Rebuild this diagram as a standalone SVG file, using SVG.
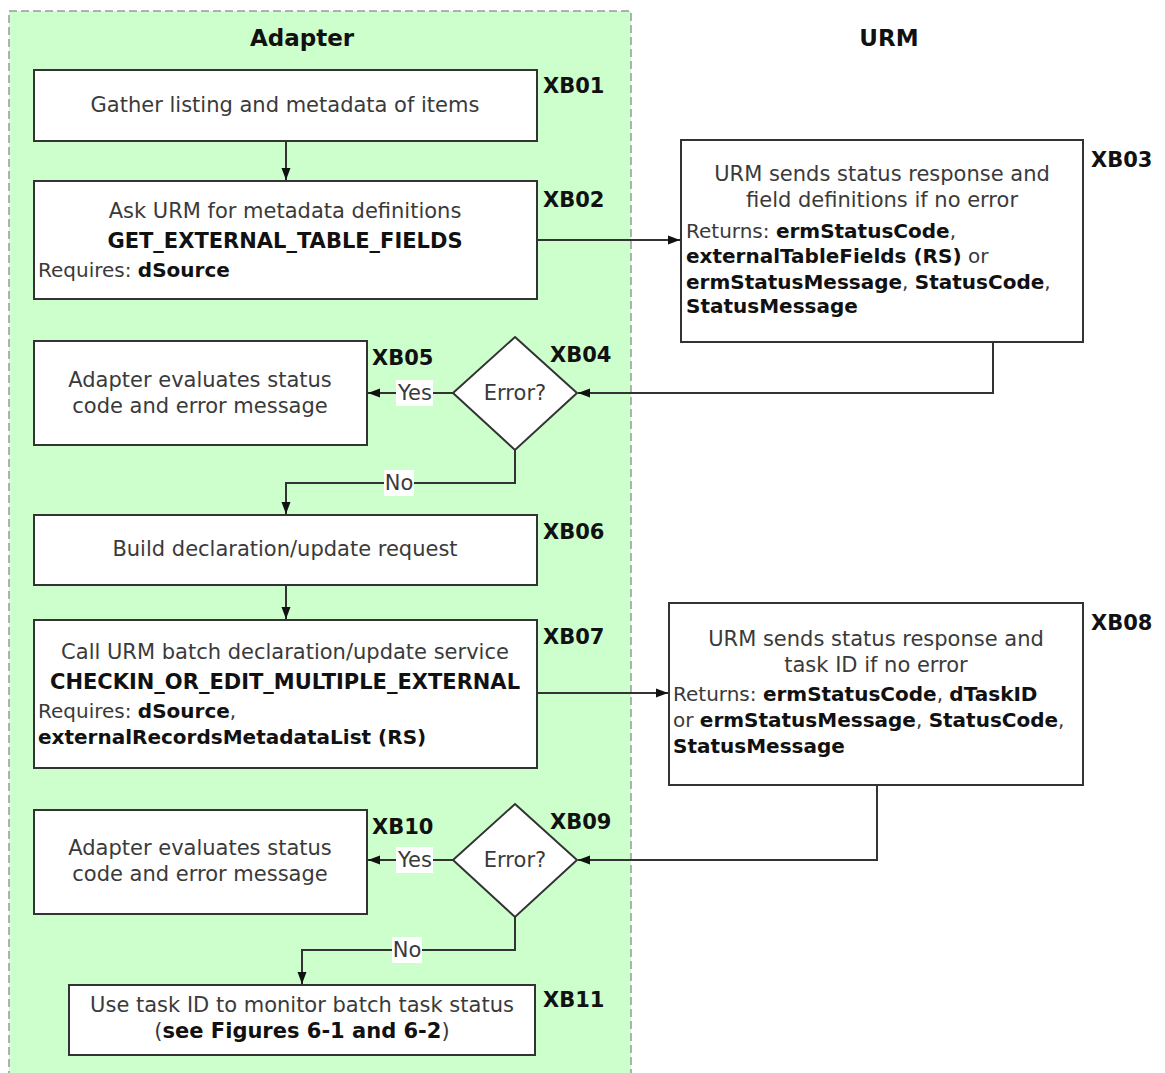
<svg xmlns="http://www.w3.org/2000/svg" width="1165" height="1073" viewBox="0 0 1165 1073">
  <style>
    .box { fill: #ffffff; stroke: #333333; stroke-width: 2; }
    .t { font-family: "DejaVu Sans", Verdana, sans-serif; font-size: 21px; fill: #3a3a3a; }
    .l { font-size: 20px; }
    .b { font-weight: bold; fill: #111111; }
    .c { text-anchor: middle; }
    .id { font-family: "DejaVu Sans", Verdana, sans-serif; font-size: 21px; font-weight: bold; fill: #111111; }
    .title { font-family: "DejaVu Sans", Verdana, sans-serif; font-size: 23px; font-weight: bold; fill: #111111; text-anchor: middle; }
    .edge { fill: none; stroke: #333333; stroke-width: 2; }
    .lbl { fill: #ffffff; }
  </style>
  <defs>
    <marker id="arrow" viewBox="0 0 12 10" refX="12" refY="5" markerWidth="12" markerHeight="10" markerUnits="userSpaceOnUse" orient="auto">
      <path d="M0,0.5 L12,5 L0,9.5 Z" fill="#111111"/>
    </marker>
  </defs>

  <rect width="1165" height="1073" fill="#ffffff"/>

  <!-- Adapter swimlane -->
  <g id="lane-adapter">
    <rect x="9" y="11" width="622" height="1070" fill="#ccffcc" stroke="#999999" stroke-width="1.5" stroke-dasharray="8,4"/>
    <text class="title" x="302" y="46">Adapter</text>
  </g>
  <g id="lane-urm">
    <text class="title" x="889" y="46">URM</text>
  </g>

  <!-- Connectors -->
  <g id="connectors">
    <path class="edge" d="M286,141 V180" marker-end="url(#arrow)"/>
    <path class="edge" d="M537,240 H680" marker-end="url(#arrow)"/>
    <path class="edge" d="M993,342 V393 H578" marker-end="url(#arrow)"/>
    <path class="edge" d="M453,393 H368" marker-end="url(#arrow)"/>
    <path class="edge" d="M515,450 V483 H286 V514" marker-end="url(#arrow)"/>
    <path class="edge" d="M286,585 V619" marker-end="url(#arrow)"/>
    <path class="edge" d="M537,693 H668" marker-end="url(#arrow)"/>
    <path class="edge" d="M877,785 V860 H578" marker-end="url(#arrow)"/>
    <path class="edge" d="M453,860 H368" marker-end="url(#arrow)"/>
    <path class="edge" d="M515,917 V950 H302 V984" marker-end="url(#arrow)"/>
    <!-- branch labels -->
    <rect class="lbl" x="396" y="380" width="37" height="26"/>
    <text class="t c" x="415" y="400">Yes</text>
    <rect class="lbl" x="384" y="470" width="30" height="26"/>
    <text class="t c" x="399" y="490">No</text>
    <rect class="lbl" x="396" y="847" width="37" height="26"/>
    <text class="t c" x="415" y="867">Yes</text>
    <rect class="lbl" x="392" y="937" width="30" height="26"/>
    <text class="t c" x="407" y="957">No</text>
  </g>

  <g id="XB01">
    <rect class="box" x="34" y="70" width="503" height="71"/>
    <text class="t c" x="285" y="112">Gather listing and metadata of items</text>
    <text class="id" x="543" y="93">XB01</text>
  </g>

  <g id="XB02">
    <rect class="box" x="34" y="181" width="503" height="118"/>
    <text class="t c" x="285" y="218">Ask URM for metadata definitions</text>
    <text class="t b c" x="285" y="248">GET_EXTERNAL_TABLE_FIELDS</text>
    <text class="t l" x="38" y="277">Requires: <tspan class="b">dSource</tspan></text>
    <text class="id" x="543" y="207">XB02</text>
  </g>

  <g id="XB03">
    <rect class="box" x="681" y="140" width="402" height="202"/>
    <text class="t c" x="882" y="181">URM sends status response and</text>
    <text class="t c" x="882" y="207">field definitions if no error</text>
    <text class="t l" x="686" y="238">Returns: <tspan class="b">ermStatusCode</tspan>,</text>
    <text class="t l" x="686" y="263"><tspan class="b">externalTableFields (RS)</tspan> or</text>
    <text class="t l" x="686" y="289"><tspan class="b">ermStatusMessage</tspan>, <tspan class="b">StatusCode</tspan>,</text>
    <text class="t l b" x="686" y="313">StatusMessage</text>
    <text class="id" x="1091" y="167">XB03</text>
  </g>

  <g id="XB04">
    <polygon class="box" points="515,337 577,393 515,450 453,393"/>
    <text class="t c" x="515" y="400">Error?</text>
    <text class="id" x="550" y="362">XB04</text>
  </g>

  <g id="XB05">
    <rect class="box" x="34" y="341" width="333" height="104"/>
    <text class="t c" x="200" y="387">Adapter evaluates status</text>
    <text class="t c" x="200" y="413">code and error message</text>
    <text class="id" x="372" y="365">XB05</text>
  </g>

  <g id="XB06">
    <rect class="box" x="34" y="515" width="503" height="70"/>
    <text class="t c" x="285" y="556">Build declaration/update request</text>
    <text class="id" x="543" y="539">XB06</text>
  </g>

  <g id="XB07">
    <rect class="box" x="34" y="620" width="503" height="148"/>
    <text class="t c" x="285" y="659">Call URM batch declaration/update service</text>
    <text class="t b c" x="285" y="689">CHECKIN_OR_EDIT_MULTIPLE_EXTERNAL</text>
    <text class="t l" x="38" y="718">Requires: <tspan class="b">dSource</tspan>,</text>
    <text class="t l b" x="38" y="744">externalRecordsMetadataList (RS)</text>
    <text class="id" x="543" y="644">XB07</text>
  </g>

  <g id="XB08">
    <rect class="box" x="669" y="603" width="414" height="182"/>
    <text class="t c" x="876" y="646">URM sends status response and</text>
    <text class="t c" x="876" y="672">task ID if no error</text>
    <text class="t l" x="673" y="701">Returns: <tspan class="b">ermStatusCode</tspan>, <tspan class="b">dTaskID</tspan></text>
    <text class="t l" x="673" y="727">or <tspan class="b">ermStatusMessage</tspan>, <tspan class="b">StatusCode</tspan>,</text>
    <text class="t l b" x="673" y="753">StatusMessage</text>
    <text class="id" x="1091" y="630">XB08</text>
  </g>

  <g id="XB09">
    <polygon class="box" points="515,804 577,860 515,917 453,860"/>
    <text class="t c" x="515" y="867">Error?</text>
    <text class="id" x="550" y="829">XB09</text>
  </g>

  <g id="XB10">
    <rect class="box" x="34" y="810" width="333" height="104"/>
    <text class="t c" x="200" y="855">Adapter evaluates status</text>
    <text class="t c" x="200" y="881">code and error message</text>
    <text class="id" x="372" y="834">XB10</text>
  </g>

  <g id="XB11">
    <rect class="box" x="69" y="985" width="466" height="70"/>
    <text class="t c" x="302" y="1012">Use task ID to monitor batch task status</text>
    <text class="t c" x="302" y="1038">(<tspan class="b">see Figures 6-1 and 6-2</tspan>)</text>
    <text class="id" x="543" y="1007">XB11</text>
  </g>
</svg>
